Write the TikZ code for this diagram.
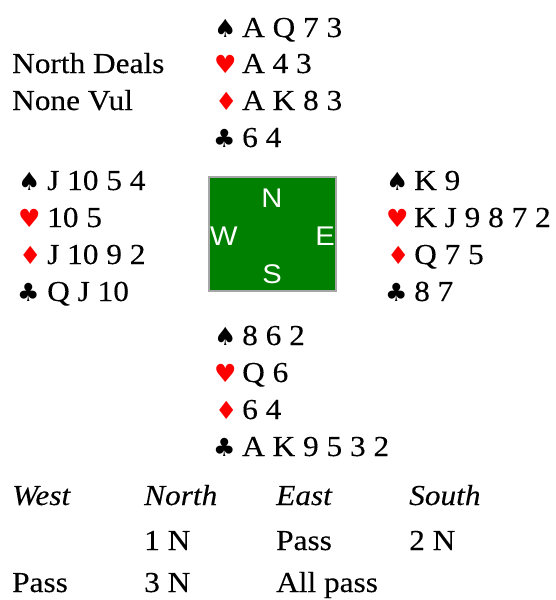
\documentclass[tikz,border=0pt]{standalone}
\usepackage{fontspec}
\setmainfont[FakeStretch=1.08,FakeBold=0.2]{Liberation Serif}
\newfontfamily\suitfont{DejaVu Sans}
\newfontfamily\boxfont[FakeStretch=1.08]{Liberation Sans}
\definecolor{felt}{RGB}{0,128,0}
\definecolor{suitred}{RGB}{255,0,0}
\tikzset{
  txt/.style={anchor=base west, inner sep=0pt, font=\fontsize{29}{29}\selectfont},
  itxt/.style={txt, font=\fontsize{29}{29}\selectfont\itshape},
  suit/.style={anchor=base west, inner sep=0pt, font=\suitfont\fontsize{25}{25}\selectfont},
  rsuit/.style={suit, text=suitred},
  dir/.style={anchor=base, inner sep=0pt, text=white, font=\boxfont\fontsize{27}{27}\selectfont},
}
\begin{document}
\begin{tikzpicture}[x=1pt,y=-1pt]
\useasboundingbox (0,0) rectangle (556,600);
% North
\node[suit]  (ns) at (214,37)  {♠}; \node[txt] (nsc) at (242,37)  {A Q 7 3};
\node[rsuit] (nh) at (214,73)  {♥}; \node[txt] (nhc) at (242,73)  {A 4 3};
\node[rsuit] (nd) at (215,110) {♦}; \node[txt] (ndc) at (242,110) {A K 8 3};
\node[suit]  (nc) at (213,147) {♣}; \node[txt] (ncc) at (242,147) {6 4};
\node[txt] (deal) at (12,73) {North Deals};
\node[txt] (vul) at (12,110) {None Vul};
% West
\node[suit]  (ws) at (18,190) {♠}; \node[txt] (wsc) at (47,190) {J 10 5 4};
\node[rsuit] (wh) at (18,227) {♥}; \node[txt] (whc) at (47,227) {10 5};
\node[rsuit] (wd) at (19,264) {♦}; \node[txt] (wdc) at (47,264) {J 10 9 2};
\node[suit]  (wc) at (17,301) {♣}; \node[txt] (wcc) at (47,301) {Q J 10};
% East
\node[suit]  (es) at (386,190) {♠}; \node[txt] (esc) at (414,190) {K 9};
\node[rsuit] (eh) at (386,227) {♥}; \node[txt] (ehc) at (414,227) {K J 9 8 7 2};
\node[rsuit] (ed) at (387,264) {♦}; \node[txt] (edc) at (414,264) {Q 7 5};
\node[suit]  (ec) at (385,301) {♣}; \node[txt] (ecc) at (414,301) {8 7};
% South
\node[suit]  (ss) at (214,345) {♠}; \node[txt] (ssc) at (242,345) {8 6 2};
\node[rsuit] (sh) at (214,382) {♥}; \node[txt] (shc) at (242,382) {Q 6};
\node[rsuit] (sd) at (215,419) {♦}; \node[txt] (sdc) at (242,419) {6 4};
\node[suit]  (sc) at (213,456) {♣}; \node[txt] (scc) at (242,456) {A K 9 5 3 2};
% Table
\node[draw=black!35, line width=1.5pt, fill=felt, minimum width=127pt, minimum height=114pt, inner sep=0pt] (table) at (272.5,234) {};
\node[dir] (tn) at (272,207) {N};
\node[dir] (tw) at (224,245) {W};
\node[dir] (te) at (325,245) {E};
\node[dir] (ts) at (272,283) {S};
% Auction
\node[itxt] (hw) at (12,505) {West};
\node[itxt] (hn) at (144,505) {North};
\node[itxt] (he) at (276,505) {East};
\node[itxt] (hs) at (409,505) {South};
\node[txt] (b1) at (144,550) {1 N};
\node[txt] (b2) at (276,550) {Pass};
\node[txt] (b3) at (409,550) {2 N};
\node[txt] (b4) at (12,592) {Pass};
\node[txt] (b5) at (144,592) {3 N};
\node[txt] (b6) at (276,592) {All pass};
\end{tikzpicture}
\end{document}
